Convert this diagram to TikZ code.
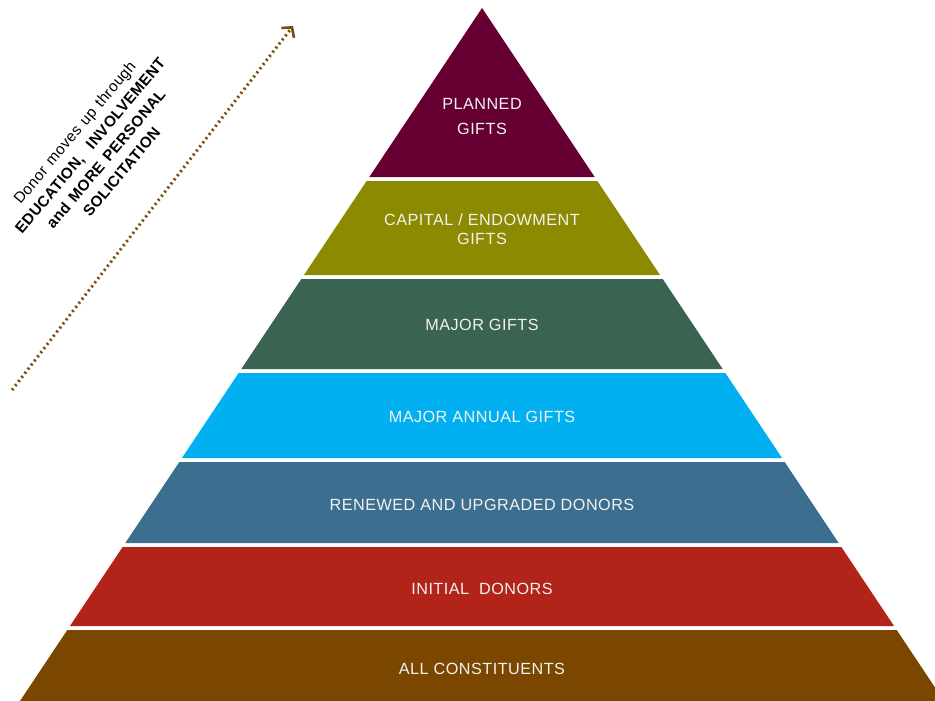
\documentclass[tikz,border=0pt]{standalone}
\usepackage{fontspec}
\setmainfont{Liberation Sans}
\usetikzlibrary{arrows.meta}
\definecolor{cPlan}{HTML}{660033}
\definecolor{cCap}{HTML}{8C8A00}
\definecolor{cMaj}{HTML}{3A6351}
\definecolor{cAnn}{HTML}{00B0F0}
\definecolor{cRen}{HTML}{3C6E8F}
\definecolor{cIni}{HTML}{B2231A}
\definecolor{cAll}{HTML}{7A4600}
\definecolor{cArr}{HTML}{7A4A10}
\newcommand\pyrlayer[3]{%
  \pgfmathsetmacro\wt{0.6667*(#1-8)}%
  \pgfmathsetmacro\wb{0.6667*(#2-8)}%
  \fill[#3] ({482-\wt},#1) -- ({482+\wt},#1) -- ({482+\wb},#2) -- ({482-\wb},#2) -- cycle;%
}
\newcommand\wsp{\hspace{6pt}}
\tikzset{
  lbl/.style={text=white!95!black, align=center, font=\fontsize{16.2}{25}\selectfont\addfontfeature{LetterSpace=3}, inner sep=0pt},
  note/.style={align=center, font=\fontsize{15.3}{20.5}\selectfont\addfontfeature{LetterSpace=3}, inner sep=0pt, rotate=50},
  arrowline/.style={cArr, line width=3pt, dash pattern=on 2pt off 3.2pt,
    -{Straight Barb[length=7pt,width=16pt,line width=2.6pt]}}
}
\begin{document}
\begin{tikzpicture}[x=1pt,y=-1pt]
\useasboundingbox (0,0) rectangle (935,701);
\pyrlayer{8}{177}{cPlan}
\pyrlayer{181}{275}{cCap}
\pyrlayer{279}{369}{cMaj}
\pyrlayer{373}{458}{cAnn}
\pyrlayer{462}{543}{cRen}
\pyrlayer{547}{626}{cIni}
\pyrlayer{630}{710}{cAll}

\node[lbl] (planned) at (482,117) {PLANNED\\GIFTS};
\node[lbl, font=\fontsize{16.2}{18.5}\selectfont\addfontfeature{LetterSpace=3}] (capital) at (482,229) {CAPITAL / ENDOWMENT\\GIFTS};
\node[lbl] (major) at (482,325) {MAJOR GIFTS};
\node[lbl] (annual) at (482,417) {MAJOR ANNUAL GIFTS};
\node[lbl] (renewed) at (482,505) {RENEWED AND UPGRADED DONORS};
\node[lbl] (initial) at (482,589) {INITIAL\ \ DONORS};
\node[lbl] (all) at (482,669) {ALL CONSTITUENTS};

\coordinate (as) at (12,390);
\coordinate (ae) at (293,26);
\draw[arrowline] (as) -- (ae);

\node[note] (desc) at (98,152) {Donor\wsp moves\wsp up\wsp through\\\textbf{EDUCATION,\wsp\wsp INVOLVEMENT}\\\textbf{and\wsp MORE\wsp PERSONAL}\\\textbf{SOLICITATION}};
\end{tikzpicture}
\end{document}
